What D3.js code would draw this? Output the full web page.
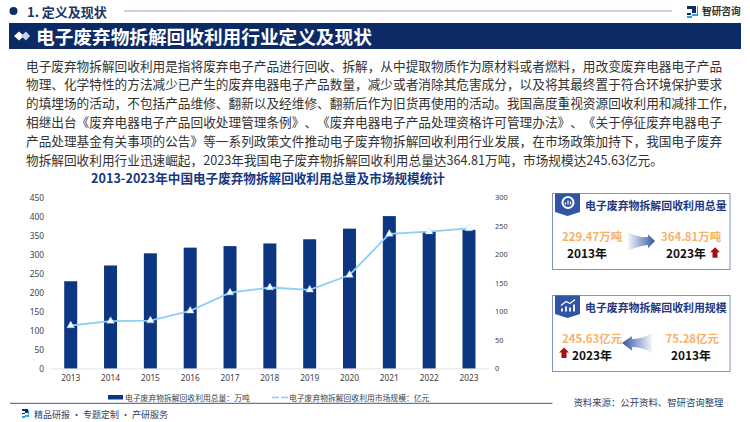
<!DOCTYPE html>
<html>
<head>
<meta charset="utf-8">
<style>
  html, body { margin: 0; padding: 0; background: #fff; }
  svg { display: block; }
  text { font-family: "Noto Sans CJK SC", "Noto Sans", sans-serif; text-spacing-trim: space-all; }
</style>
</head>
<body>
<script src="https://cdn.jsdelivr.net/npm/d3@7"></script>
<script>
const width = 750;
const height = 422;

const years = ["2013", "2014", "2015", "2016", "2017", "2018", "2019", "2020", "2021", "2022", "2023"];
const totals = [229.47, 271, 303, 318, 322, 329, 340, 368, 401, 360, 364.81];
const marketSize = [75.28, 83, 84, 101, 133, 142, 138, 164, 236, 240, 245.63];
const leftTicks = [0, 50, 100, 150, 200, 250, 300, 350, 400, 450];
const rightTicks = [0, 50, 100, 150, 200, 250, 300];
const seriesNames = ["电子废弃物拆解回收利用总量：万吨", "电子废弃物拆解回收利用市场规模：亿元"];

const bodyLines = [
  "电子废弃物拆解回收利用是指将废弃电子产品进行回收、拆解，从中提取物质作为原材料或者燃料，用改变废弃电器电子产品",
  "物理、化学特性的方法减少已产生的废弃电器电子产品数量，减少或者消除其危害成分，以及将其最终置于符合环境保护要求",
  "的填埋场的活动，不包括产品维修、翻新以及经维修、翻新后作为旧货再使用的活动。我国高度重视资源回收利用和减排工作，",
  "相继出台《废弃电器电子产品回收处理管理条例》、《废弃电器电子产品处理资格许可管理办法》、《关于停征废弃电器电子",
  "产品处理基金有关事项的公告》等一系列政策文件推动电子废弃物拆解回收利用行业发展，在市场政策加持下，我国电子废弃",
  "物拆解回收利用行业迅速崛起，2023年我国电子废弃物拆解回收利用总量达364.81万吨，市场规模达245.63亿元。"
];

const navy = "#0b2a66";
const barBlue = "#0c3582";
const lineBlue = "#8fcdf5";

const svg = d3.select("body")
  .append("svg")
  .attr("width", width)
  .attr("height", height);

const defs = svg.append("defs");
const gradRight = defs.append("linearGradient").attr("id", "fadeRight");
gradRight.append("stop").attr("offset", "0%").attr("stop-color", "#2f55a4").attr("stop-opacity", 0.05);
gradRight.append("stop").attr("offset", "100%").attr("stop-color", "#2f55a4");
const gradLeft = defs.append("linearGradient").attr("id", "fadeLeft");
gradLeft.append("stop").attr("offset", "0%").attr("stop-color", "#2f55a4");
gradLeft.append("stop").attr("offset", "100%").attr("stop-color", "#2f55a4").attr("stop-opacity", 0.05);

function label(str, x, y, size, color, weight, anchor) {
  return svg.append("text")
    .attr("x", x)
    .attr("y", y)
    .attr("font-size", size)
    .attr("fill", color)
    .attr("font-weight", weight || 400)
    .attr("text-anchor", anchor || "start")
    .attr("dominant-baseline", "central")
    .text(str);
}

// header
svg.append("circle").attr("cx", 13.5).attr("cy", 11).attr("r", 4).attr("fill", navy);
label("1. 定义及现状", 27, 11, 13, "#1d3566", 700);
svg.append("line").attr("x1", 124).attr("x2", 672).attr("y1", 11).attr("y2", 11)
  .attr("stroke", "#9aa8cc").attr("stroke-width", 1.2);

// logo
svg.append("path").attr("d", "M687 6h9v7h-5v2h-4v-2h5v-4h-5z").attr("fill", navy);
svg.append("path").attr("d", "M687 16h5v-2h5v-8h1v10h-6v2h-5z").attr("fill", "#2f9be0");
label("智研咨询", 702, 10.5, 9.7, "#333", 700);

// title banner
svg.append("rect").attr("x", 9).attr("y", 23).attr("width", 732).attr("height", 26).attr("fill", navy);
svg.append("path").attr("d", "M14 36l5-4.500 5 4.500-5 4.500z").attr("fill", "#fff");
svg.append("path").attr("d", "M21 36l5-4.500 4 4.500-4 4.500z").attr("fill", "#c9d2e4");
label("电子废弃物拆解回收利用行业定义及现状", 36, 35.5, 18.67, "#fff", 700);

// body text
bodyLines.forEach((line, i) => {
  label(line, 26, 65 + i * 18.8, 12.67, "#333");
});

// chart title
label("2013-2023年中国电子废弃物拆解回收利用总量及市场规模统计", 268, 177, 12.6, "#17387f", 700, "middle");

// chart
const xScale = d3.scaleBand().domain(years).range([50.8, 488.9]);
const yLeft = d3.scaleLinear().domain([0, 450]).range([368.4, 197.5]);
const yRight = d3.scaleLinear().domain([0, 300]).range([368.4, 197.5]);
const xMid = d => xScale(d) + xScale.bandwidth() / 2;

const xAxis = svg.append("g")
  .attr("transform", "translate(0,368.4)")
  .call(d3.axisBottom(xScale).tickSize(0).tickPadding(7));
xAxis.select(".domain").attr("stroke", "#e4e4e4");

const leftAxis = svg.append("g")
  .attr("transform", "translate(44,0)")
  .call(d3.axisLeft(yLeft).tickValues(leftTicks).tickSize(0).tickPadding(0));
leftAxis.select(".domain").remove();

const rightAxis = svg.append("g")
  .attr("transform", "translate(495,0)")
  .call(d3.axisRight(yRight).tickValues(rightTicks).tickSize(0).tickPadding(0));
rightAxis.select(".domain").remove();

svg.selectAll(".tick text")
  .attr("font-size", 8.3)
  .attr("fill", "#404040")
  .style("font-family", "'Noto Sans', sans-serif");
rightAxis.selectAll("text").attr("font-size", 7.4);

const barWidth = 13;
svg.selectAll(".bar")
  .data(years)
  .enter()
  .append("rect")
  .attr("class", "bar")
  .attr("x", d => xMid(d) - barWidth / 2)
  .attr("y", (d, i) => yLeft(totals[i]))
  .attr("width", barWidth)
  .attr("height", (d, i) => yLeft(0) - yLeft(totals[i]))
  .attr("fill", barBlue);

const marketLine = d3.line()
  .x((d, i) => xMid(years[i]))
  .y(d => yRight(d));

svg.append("path")
  .datum(marketSize)
  .attr("d", marketLine)
  .attr("fill", "none")
  .attr("stroke", lineBlue)
  .attr("stroke-width", 1.8);

svg.selectAll(".marker")
  .data(marketSize)
  .enter()
  .append("path")
  .attr("class", "marker")
  .attr("d", d3.symbol(d3.symbolTriangle, 26))
  .attr("transform", (d, i) => `translate(${xMid(years[i])},${yRight(d)})`)
  .attr("fill", "#fff")
  .attr("stroke", lineBlue)
  .attr("stroke-width", 0.4);

// legend
svg.append("rect").attr("x", 108).attr("y", 395).attr("width", 15).attr("height", 4.500).attr("fill", barBlue);
label(seriesNames[0], 125, 397.5, 7.8, "#404040");
svg.append("line").attr("x1", 272).attr("x2", 288).attr("y1", 397.5).attr("y2", 397.5)
  .attr("stroke", lineBlue).attr("stroke-width", 1.4).attr("stroke-dasharray", "7 2");
label(seriesNames[1], 289, 397.5, 7.8, "#404040");

// side panels
function panel(top, heading, icon) {
  svg.append("rect").attr("x", 552.5).attr("y", top).attr("width", 177.5).attr("height", 76)
    .attr("fill", "#fff").attr("stroke", "#7f93c4").attr("stroke-width", 1);
  svg.append("path")
    .attr("d", `M555 ${top}h25v18.500l-12.500 4-12.500-4z`)
    .attr("fill", "#2f55a4");
  if (icon === "ring") {
    svg.append("circle").attr("cx", 568).attr("cy", top + 9).attr("r", 5.500).attr("fill", "none")
      .attr("stroke", "#fff").attr("stroke-width", 2);
    svg.append("path").attr("d", `M565.500 ${top + 11}v-2M568 ${top + 11}v-4M570.500 ${top + 11}v-3`)
      .attr("stroke", "#fff").attr("stroke-width", 1.2);
  } else {
    svg.append("path").attr("d", `M562 ${top + 13}v3M566 ${top + 11}v5M570 ${top + 12}v4M574 ${top + 9}v7`)
      .attr("stroke", "#fff").attr("stroke-width", 1.8);
    svg.append("path").attr("d", `M561 ${top + 10}l5-4 4 2 5-4`).attr("fill", "none")
      .attr("stroke", "#fff").attr("stroke-width", 1.2);
  }
  label(heading, 585, top + 11, 10.9, "#1f3a80", 700);
}

function upArrow(cx, cy) {
  svg.append("path")
    .attr("d", `M${cx} ${cy - 5.500}l5 5h-2.500v5.500h-5v-5.500h-2.500z`)
    .attr("fill", "#a80f0f");
}

panel(193.5, "电子废弃物拆解回收利用总量", "ring");
label("229.47万吨", 562, 235.5, 11.4, "#f7b266", 700);
label("2013年", 567, 252.7, 11.9, "#111", 700);
svg.append("path").attr("d", "M628 232Q638 238 648 237V234.300L655 241L648 248.300V245Q638 246 628 251Z").attr("fill", "url(#fadeRight)");
label("364.81万吨", 661, 235.5, 11.4, "#f7b266", 700);
label("2023年", 666, 252.7, 11.9, "#111", 700);
upArrow(715, 252.7);

panel(295.5, "电子废弃物拆解回收利用规模", "chart");
label("245.63亿元", 562, 337.7, 11.4, "#f7b266", 700);
label("2023年", 572, 354.3, 11.9, "#111", 700);
upArrow(564, 353);
svg.append("path").attr("d", "M652 333Q642 339 632 339V336L622 343L632 350.700V347Q642 347 652 352.700Z").attr("fill", "url(#fadeLeft)");
label("75.28亿元", 665.5, 337.7, 11.4, "#f7b266", 700);
label("2013年", 671, 354.3, 11.9, "#111", 700);

// footer
svg.append("line").attr("x1", 10).attr("x2", 552.5).attr("y1", 403.3).attr("y2", 403.3)
  .attr("stroke", "#3c5590").attr("stroke-width", 1);
svg.append("path").attr("d", "M22 409h6v4h-3v1h-3v-1h3v-2h-3z").attr("fill", navy);
svg.append("path").attr("d", "M22 416h3v-1h3v-5h1v7h-4v1h-3z").attr("fill", "#2f9be0");
label("精品研报 · 专题定制 · 产研服务", 34, 414, 9, "#2a3f6a");
label("资料来源：公开资料、智研咨询整理", 723.5, 402, 9.4, "#2a3f6a", 400, "end");
</script>
</body>
</html>
